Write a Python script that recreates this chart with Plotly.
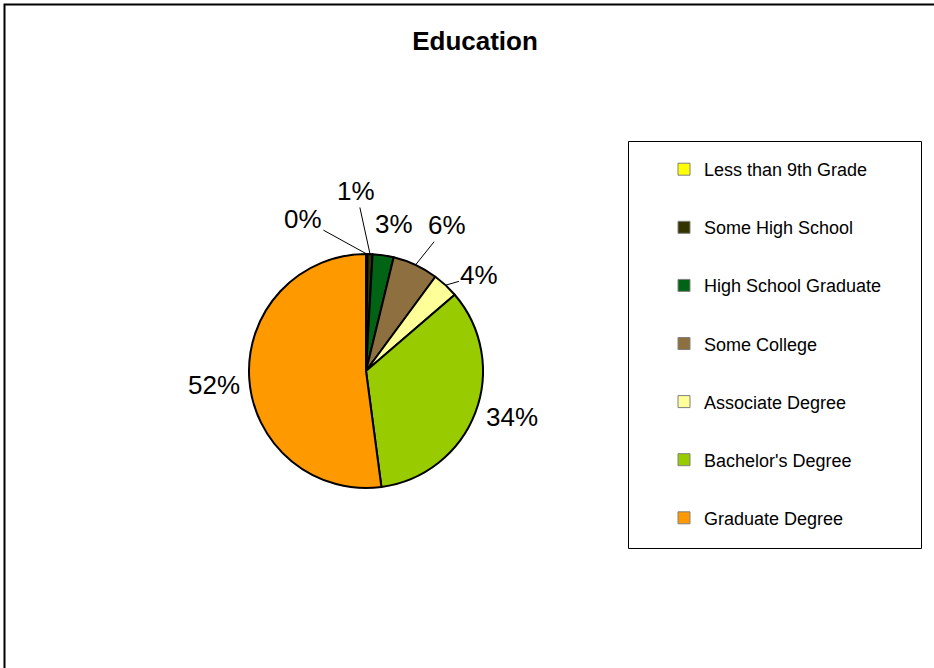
import math
import plotly.graph_objects as go

categories = ["Less than 9th Grade", "Some High School", "High School Graduate",
              "Some College", "Associate Degree", "Bachelor's Degree", "Graduate Degree"]
values = [0.2, 0.7, 2.9, 6.3, 3.6, 34.2, 52.1]
colors = ["#FFFF00", "#333300", "#006414", "#8E7040", "#FFFF99", "#99CC00", "#FF9900"]

W, H = 934, 668
OFF = 0  # page body margin removed below
FONT = "Arial, Liberation Sans, sans-serif"


def px(X):
    return (X - OFF) / W


def py(Y):
    return 1 - (Y - OFF) / H


# pie geometry (reference pixel coords)
CX, CY, R = 366, 371, 117

fig = go.Figure()

fig.add_trace(go.Pie(
    labels=categories, values=values, sort=False, direction="clockwise", rotation=0,
    marker=dict(colors=colors, line=dict(color="black", width=2)),
    textinfo="none",
    domain=dict(x=[px(CX - R), px(CX + R)], y=[py(CY + R), py(CY - R)]),
    showlegend=False, hoverinfo="label+percent",
))

# percentage labels computed from the values
total = sum(values)
# label placement: (radial factor, extra dx, extra dy, leader line)
placement = [
    (1.3, -64, 0, True),    # 0%
    (1.3, -15, -28, True),  # 1%
    (1.3, 6, 3, False),     # 3%
    (1.3, 17, -8, True),    # 6%
    (1.3, 10, 16, True),    # 4%
    (1.3, 4, -8, False),    # 34%
    (1.3, 0, 4, False),     # 52%
]
annotations = []
cum = 0.0
for v, (f, ddx, ddy, line) in zip(values, placement):
    mid = (cum + v / 2) / total * 2 * math.pi
    cum += v
    sx, sy = math.sin(mid), -math.cos(mid)
    rimx, rimy = CX + R * sx, CY + R * sy
    lx, ly = CX + R * f * sx + ddx, CY + R * f * sy + ddy
    txt = f"{round(v / total * 100)}%"
    if line:
        annotations.append(dict(
            x=px(rimx), y=py(rimy), xref="paper", yref="paper",
            ax=lx - rimx, ay=ly - rimy, axref="pixel", ayref="pixel",
            text=txt, showarrow=True, arrowhead=0, arrowwidth=1, arrowcolor="black",
            standoff=0, startstandoff=0,
            font=dict(family=FONT, size=26, color="black"),
        ))
    else:
        annotations.append(dict(
            x=px(lx), y=py(ly), xref="paper", yref="paper", xanchor="center", yanchor="middle",
            text=txt, showarrow=False,
            font=dict(family=FONT, size=26, color="black"),
        ))

for i, (c, col) in enumerate(zip(categories, colors)):
    fig.add_trace(go.Scatter(
        x=[None], y=[None], mode="markers", name=c, legendgroup=f"g{i}",
        marker=dict(symbol="square", size=12, color=col, line=dict(color="#808080", width=1)),
        showlegend=True, hoverinfo="skip",
    ))

fig.update_layout(
    width=W, height=H,
    margin=dict(l=0, r=0, t=0, b=0),
    paper_bgcolor="white", plot_bgcolor="white",
    font=dict(family=FONT, color="black"),
    title=dict(text="<b>Education</b>", x=px(475), xanchor="center", y=py(41), yanchor="middle",
               xref="paper", yref="paper", font=dict(family=FONT, size=26, color="black")),
    xaxis=dict(visible=False), yaxis=dict(visible=False),
    legend=dict(x=px(664), xanchor="left", y=py(151), yanchor="top",
                bgcolor="rgba(0,0,0,0)", borderwidth=0,
                font=dict(family=FONT, size=18, color="black"),
                tracegroupgap=31.7, itemwidth=30, traceorder="grouped"),
    annotations=annotations,
    shapes=[
        dict(type="rect", xref="paper", yref="paper", x0=px(4.5), x1=1.05, y0=-0.05, y1=py(4.5),
             line=dict(color="black", width=2), fillcolor="rgba(0,0,0,0)", layer="below"),
        dict(type="rect", xref="paper", yref="paper", x0=px(628.5), x1=px(921.5),
             y0=py(548.5), y1=py(141.5),
             line=dict(color="black", width=1), fillcolor="rgba(0,0,0,0)"),
    ],
)

fig.write_html("out.html", config={"displayModeBar": False},
               post_script="document.body.style.margin='0';")
